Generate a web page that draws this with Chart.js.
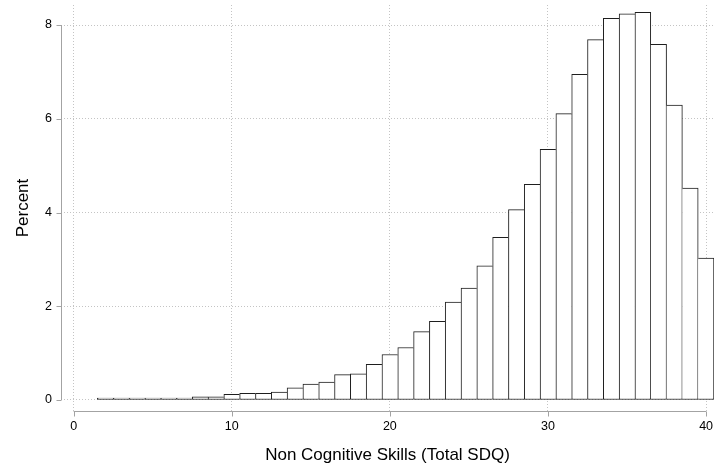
<!DOCTYPE html>
<html>
<head>
<meta charset="utf-8">
<title>Non Cognitive Skills histogram</title>
<script src="https://cdn.jsdelivr.net/npm/chart.js@4/dist/chart.umd.min.js"></script>
<style>
  html, body { margin: 0; padding: 0; background: #fff; }
  canvas { display: block; }
</style>
</head>
<body>
<canvas id="hist" width="718" height="466"></canvas>
<script>
// Total SDQ score (bin centres, width 1) and share of children in each bin
const scores = [2, 3, 4, 5, 6, 7, 8, 9, 10, 11, 12, 13, 14, 15, 16, 17, 18, 19, 20, 21,
                22, 23, 24, 25, 26, 27, 28, 29, 30, 31, 32, 33, 34, 35, 36, 37, 38, 39, 40];
const percent = [0.005, 0.005, 0.01, 0.01, 0.02, 0.04, 0.07, 0.07, 0.12, 0.14,
                 0.14, 0.17, 0.26, 0.34, 0.38, 0.54, 0.56, 0.76, 0.97, 1.12,
                 1.46, 1.68, 2.09, 2.39, 2.86, 3.47, 4.06, 4.60, 5.35, 6.11,
                 6.95, 7.69, 8.14, 8.24, 8.27, 7.59, 6.29, 4.52, 3.03];
const xTicks = [0, 10, 20, 30, 40];
const yTicks = [0, 2, 4, 6, 8];

const FONT = "'Liberation Sans', Arial, Helvetica, sans-serif";
const AXIS_GREY = "#a3a3a3";

// each shared edge between two bars is drawn once, by the taller bar
function edges(ctx) {
    const i = ctx.dataIndex;
    const v = percent[i];
    const prev = i > 0 ? percent[i - 1] : -1;
    const next = i < percent.length - 1 ? percent[i + 1] : -1;
    return { top: 1, bottom: 1, left: prev <= v ? 1 : 0, right: next < v ? 1 : 0 };
}

// Stata style axes: line spans only the tick range, ticks point outwards
const stataAxes = {
    id: "stataAxes",
    afterDraw(chart) {
        const c = chart.ctx;
        const xs = chart.scales.x, ys = chart.scales.y;
        const xl = Math.round(chart.chartArea.left) + 0.5;
        const yb = Math.round(chart.chartArea.bottom) + 0.5;
        c.save();
        c.strokeStyle = AXIS_GREY;
        c.lineWidth = 1;
        c.beginPath();
        c.moveTo(xl, ys.getPixelForValue(yTicks[0]));
        c.lineTo(xl, ys.getPixelForValue(yTicks[yTicks.length - 1]));
        yTicks.forEach(t => {
            const p = Math.round(ys.getPixelForValue(t)) + 0.5;
            c.moveTo(xl, p);
            c.lineTo(xl - 5, p);
        });
        c.moveTo(xs.getPixelForValue(xTicks[0]), yb);
        c.lineTo(xs.getPixelForValue(xTicks[xTicks.length - 1]), yb);
        xTicks.forEach(t => {
            const p = Math.round(xs.getPixelForValue(t)) + 0.5;
            c.moveTo(p, yb);
            c.lineTo(p, yb + 5);
        });
        c.stroke();
        c.restore();
    }
};

function noPad(scale) {
    scale.paddingLeft = 0;
    scale.paddingRight = 0;
    scale.paddingTop = 0;
    scale.paddingBottom = 0;
}

new Chart(document.getElementById("hist").getContext("2d"), {
    type: "bar",
    data: {
        datasets: [{
            label: "Percent",
            data: scores.map((s, i) => ({ x: s, y: percent[i] })),
            backgroundColor: "#ffffff",
            borderColor: "#1e1e1e",
            borderWidth: edges,
            borderSkipped: false,
            minBarLength: 2,
            barPercentage: 1,
            categoryPercentage: 1
        }]
    },
    options: {
        responsive: false,
        animation: false,
        devicePixelRatio: 1,
        layout: { padding: { top: 5, right: 4, left: 0, bottom: 0 } },
        plugins: { legend: { display: false }, tooltip: { enabled: false } },
        scales: {
            x: {
                type: "linear",
                offset: false,
                min: -0.8,
                max: 40.5,
                afterBuildTicks: s => { s.ticks = xTicks.map(v => ({ value: v })); },
                afterFit: s => { s.height = 55; noPad(s); },
                grid: { offset: false, color: "#c4c4c4", drawTicks: false },
                border: { display: false, dash: [1, 2] },
                ticks: {
                    padding: 8,
                    color: "#000",
                    font: { family: FONT, size: 12.5 },
                    callback: v => String(v)
                },
                title: {
                    display: true,
                    text: "Non Cognitive Skills (Total SDQ)",
                    color: "#000",
                    font: { family: FONT, size: 17 },
                    padding: { top: 4, bottom: 0 }
                }
            },
            y: {
                min: -0.2347,
                max: 8.427,
                afterBuildTicks: s => { s.ticks = yTicks.map(v => ({ value: v })); },
                afterFit: s => { s.width = 61; noPad(s); },
                grid: { color: "#c4c4c4", drawTicks: false },
                border: { display: false, dash: [1, 2] },
                ticks: {
                    padding: 9,
                    color: "#000",
                    font: { family: FONT, size: 12.5 },
                    callback: v => String(v)
                },
                title: {
                    display: true,
                    text: "Percent",
                    color: "#000",
                    font: { family: FONT, size: 17 },
                    padding: { top: 13, bottom: 0 }
                }
            }
        }
    },
    plugins: [stataAxes]
});
</script>
</body>
</html>
